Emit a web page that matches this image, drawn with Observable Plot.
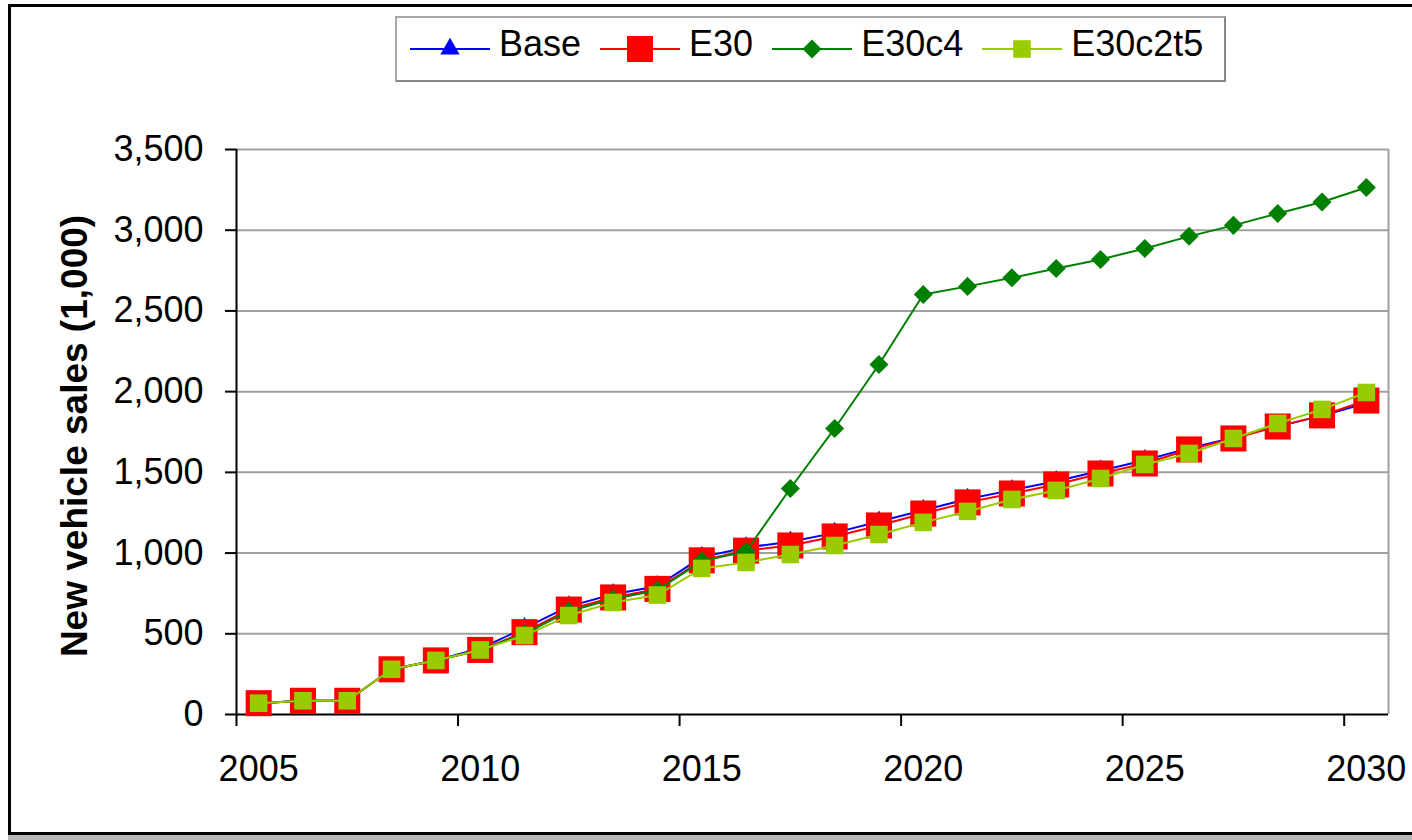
<!DOCTYPE html>
<html>
<head>
<meta charset="utf-8">
<script src="https://cdn.jsdelivr.net/npm/d3@7"></script>
<script src="https://cdn.jsdelivr.net/npm/@observablehq/plot@0.6"></script>
<style>
html, body { margin: 0; padding: 0; background: #fff; }
#wrap { position: relative; width: 1412px; height: 840px; overflow: hidden; font-family: Arial, "Liberation Sans", sans-serif; }
#frame { position: absolute; left: 8px; top: 4px; width: 1500px; height: 831px; box-sizing: border-box; border: 3px solid #000; box-shadow: 0 5px 0 #b8b8b8; }
#chart { position: absolute; left: 0; top: 0; }
#ytitle { position: absolute; left: 74px; top: 436px; transform: translate(-50%, -50%) rotate(-90deg); white-space: nowrap; font-weight: bold; font-size: 37px; line-height: 1; color: #000; }
#legend { position: absolute; left: 395px; top: 16px; width: 831px; height: 66px; box-sizing: border-box; border: 2px solid #a8a8a8; border-right-color: #888; border-bottom-color: #888; background: #fff; display: flex; align-items: center; padding-left: 13px; gap: 19px; }
.item { display: flex; align-items: center; gap: 9px; }
.item span { font-size: 36px; line-height: 1; position: relative; top: -5px; color: #000; }
.item svg { display: block; }
</style>
</head>
<body>
<div id="wrap">
  <div id="frame"></div>
  <div id="chart"></div>
  <div id="ytitle">New vehicle sales (1,000)</div>
  <div id="legend"></div>
</div>
<script>
// ---- Data ----
const years = [2005, 2006, 2007, 2008, 2009, 2010, 2011, 2012, 2013, 2014, 2015, 2016, 2017,
               2018, 2019, 2020, 2021, 2022, 2023, 2024, 2025, 2026, 2027, 2028, 2029, 2030];
const base    = [70, 85, 85, 280, 335, 410, 535, 670, 745, 795, 975, 1035, 1070,
                 1125, 1195, 1265, 1335, 1390, 1445, 1510, 1575, 1650, 1715, 1785, 1850, 1930];
const e30     = [70, 85, 85, 280, 335, 400, 510, 650, 725, 778, 955, 1015, 1047,
                 1103, 1171, 1245, 1314, 1369, 1425, 1493, 1555, 1642, 1710, 1784, 1853, 1945];
const e30c4   = [70, 85, 85, 280, 335, 400, 500, 640, 715, 770, 950, 1010, 1400,
                 1772, 2168, 2602, 2652, 2705, 2763, 2819, 2887, 2962, 3030, 3104, 3175, 3265];
const e30c2t5 = [70, 85, 85, 280, 335, 400, 489, 613, 694, 740, 905, 942, 991,
                 1047, 1115, 1190, 1258, 1332, 1388, 1462, 1549, 1617, 1710, 1803, 1890, 1995];
const seriesNames = ["Base", "E30", "E30c4", "E30c2t5"];
const yTicks = [0, 500, 1000, 1500, 2000, 2500, 3000, 3500];
const xTickYears = [2005, 2010, 2015, 2020, 2025, 2030];
const xDomain = [2005, 2031];
const yDomain = [0, 3500];

// ---- Styles per series ----
const styles = {
  "Base":    {color: "#0000FF", symbol: "triangle", r: 7.2, rotate: 0},
  "E30":     {color: "#FF0000", symbol: "square",   r: 14.7, rotate: 0},
  "E30c4":   {color: "#008000", symbol: "square",   r: 7.6, rotate: 45},
  "E30c2t5": {color: "#99CC00", symbol: "square",   r: 9.9, rotate: 0}
};
const valuesByName = {"Base": base, "E30": e30, "E30c4": e30c4, "E30c2t5": e30c2t5};

const marks = [
  Plot.gridY(yTicks.filter(d => d > 0), {stroke: "#a0a0a0", strokeOpacity: 1, strokeWidth: 2}),
  Plot.ruleX([xDomain[1]], {stroke: "#a0a0a0", strokeWidth: 2}),
  Plot.axisY({ticks: yTicks, tickSize: 11, tickPadding: 22, tickFormat: d3.format(","), fontSize: 36, label: null, strokeWidth: 2}),
  Plot.axisX({ticks: xTickYears, tickSize: 12, tickFormat: () => "", label: null, strokeWidth: 2}),
  Plot.axisX({ticks: xTickYears.map(d => d + 0.5), tickSize: 0, tickPadding: 41, tickFormat: d => String(d - 0.5), fontSize: 36, label: null}),
  Plot.ruleX([xDomain[0]], {stroke: "#000", strokeWidth: 2}),
  Plot.ruleY([0], {stroke: "#000", strokeWidth: 2})
];

for (const name of seriesNames) {
  const st = styles[name];
  const rows = years.map((y, i) => ({year: y, value: valuesByName[name][i]}));
  marks.push(Plot.line(rows, {x: d => d.year + 0.5, y: "value", stroke: st.color, strokeWidth: 2}));
  marks.push(Plot.dot(rows, {x: d => d.year + 0.5, y: "value", symbol: st.symbol, r: st.r, fill: st.color, stroke: "none", rotate: st.rotate}));
}

const chart = Plot.plot({
  width: 1412,
  height: 840,
  marginLeft: 236,
  marginRight: 24,
  marginTop: 149,
  marginBottom: 126,
  style: {background: "transparent", fontFamily: "Arial, 'Liberation Sans', sans-serif", color: "#000"},
  x: {domain: xDomain},
  y: {domain: yDomain},
  marks
});
document.getElementById("chart").appendChild(chart);

// ---- Legend ----
const legend = document.getElementById("legend");
const symMap = {triangle: d3.symbolTriangle, square: d3.symbolSquare};
for (const name of seriesNames) {
  const st = styles[name];
  const item = document.createElement("div");
  item.className = "item";
  const ns = "http://www.w3.org/2000/svg";
  const svg = document.createElementNS(ns, "svg");
  svg.setAttribute("width", 80);
  svg.setAttribute("height", 30);
  const line = document.createElementNS(ns, "line");
  line.setAttribute("x1", 0); line.setAttribute("x2", 80);
  line.setAttribute("y1", 15); line.setAttribute("y2", 15);
  line.setAttribute("stroke", st.color); line.setAttribute("stroke-width", 2);
  svg.appendChild(line);
  const path = document.createElementNS(ns, "path");
  path.setAttribute("d", d3.symbol(symMap[st.symbol], Math.PI * st.r * st.r)());
  path.setAttribute("transform", `translate(40,15) rotate(${st.rotate})`);
  path.setAttribute("fill", st.color);
  svg.appendChild(path);
  item.appendChild(svg);
  const span = document.createElement("span");
  span.textContent = name;
  item.appendChild(span);
  legend.appendChild(item);
}
</script>
</body>
</html>
